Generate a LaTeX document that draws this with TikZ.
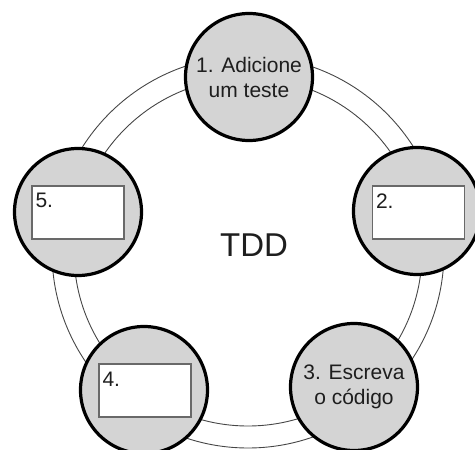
\documentclass[tikz,border=0pt]{standalone}
\usepackage{fontspec}
\setmainfont{Liberation Sans}
\usetikzlibrary{positioning}
\definecolor{stepgray}{RGB}{212,212,212}
\definecolor{boxgray}{RGB}{105,105,105}
\definecolor{ringgray}{RGB}{70,70,70}
\definecolor{txt}{RGB}{30,30,30}

\begin{document}
\begin{tikzpicture}[x=1pt,y=-1pt,text=txt,
  st/.style={circle,draw=black,line width=3.2pt,fill=stepgray,minimum size=127pt,
    inner sep=0pt,align=center,font=\fontsize{21}{25}\selectfont},
  bx/.style={draw=boxgray,line width=1.3pt,fill=white,minimum width=92pt,
    minimum height=53pt,inner sep=0pt},
  num/.style={anchor=north west,inner sep=0pt,font=\fontsize{21}{22}\selectfont},
  rg/.style={draw=ringgray,line width=0.9pt}]
\useasboundingbox (0,0) rectangle (475,450);

% the cycle
\coordinate (c) at (248,252);
\draw[rg] (c) circle[radius=196pt];
\draw[rg] (c) circle[radius=174pt];

% steps
\node[st] (s1) at (249,77)  {1. Adicione\\um teste};
\node[st] (s2) at (417,211) {};
\node[st] (s3) at (354,387) {3. Escreva\\o código};
\node[st] (s4) at (144,390) {};
\node[st] (s5) at (78,212)  {};

% empty boxes
\node[bx] (b2) at (418.5,212.5) {};
\node[bx] (b4) at (145,390.5) {};
\node[bx] (b5) at (78,212.5) {};
\node[num] at ([xshift=4pt,yshift=-8pt]b2.north west) {2.};
\node[num] at ([xshift=4pt,yshift=-8pt]b4.north west) {4.};
\node[num] at ([xshift=4pt,yshift=-8pt]b5.north west) {5.};

\node[font=\fontsize{33}{36}\selectfont] (tdd) at (254,245) {TDD};
\end{tikzpicture}
\end{document}
